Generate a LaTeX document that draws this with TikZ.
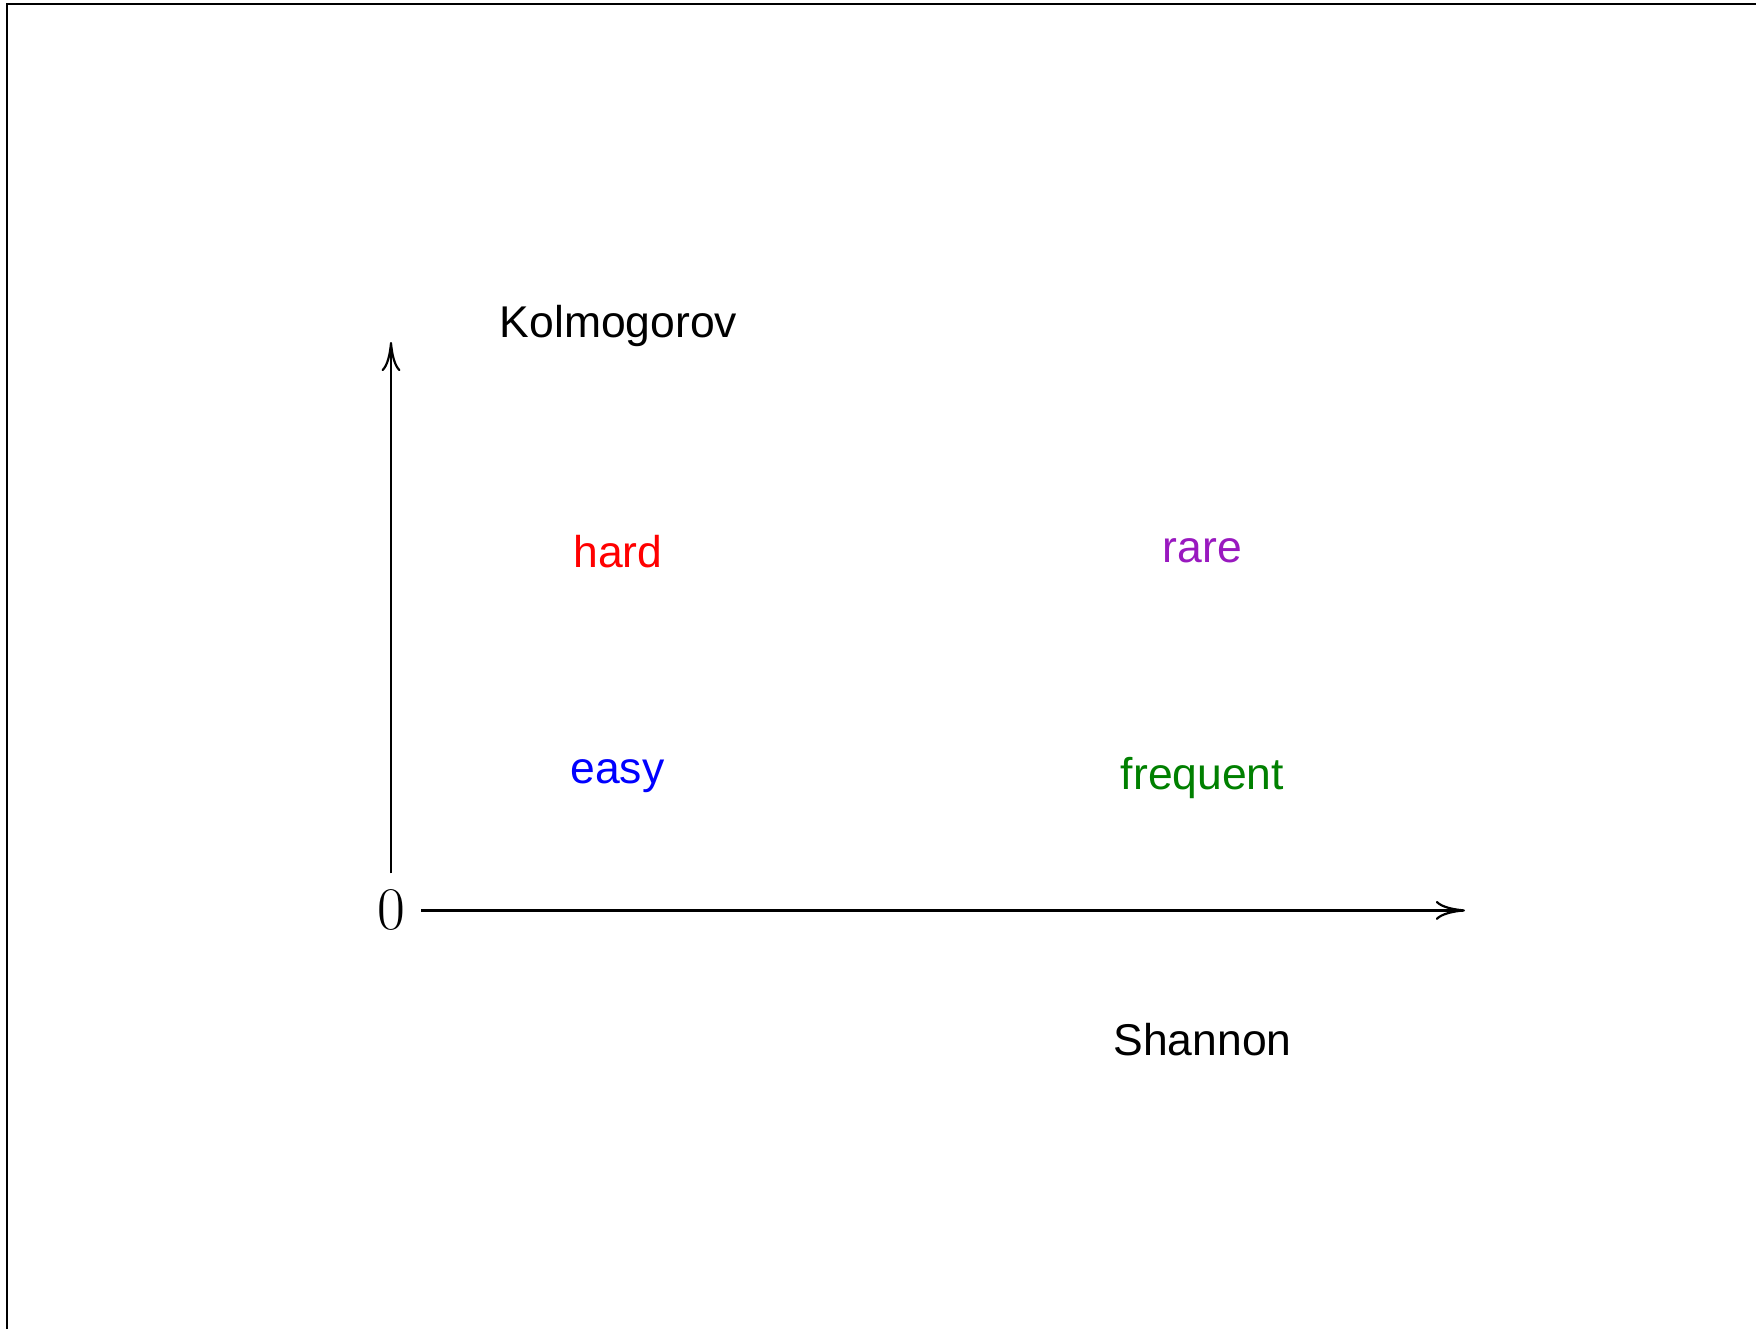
\documentclass[tikz,border=0pt]{standalone}
\usepackage{fontspec}
\usetikzlibrary{arrows.meta}
\newfontfamily\labelfont{Liberation Sans}
\definecolor{hardred}{rgb}{1,0,0}
\definecolor{rarepurple}{rgb}{0.6,0.1,0.75}
\definecolor{easyblue}{rgb}{0,0,1}
\definecolor{freqgreen}{rgb}{0,0.5,0}
\tikzset{
  lbl/.style={anchor=base, inner sep=0pt, font=\labelfont\fontsize{12.65}{15}\selectfont},
  axis/.style={line width=0.62pt, -{To[length=8.3pt,width=5.4pt]}},
  frame/.style={line width=0.62pt}
}
\begin{document}
\begin{tikzpicture}[x=0.01cm,y=-0.01cm]
\useasboundingbox (0,0) rectangle (1756,1329);
\draw[frame] (7,1329) -- (7,3.8) -- (1756,3.8);
\node[inner sep=4.5pt, font=\rmfamily\fontsize{17.2}{20}\selectfont] (zero) at (391,910.4) {0};
\coordinate (ytip) at (391,342);
\coordinate (xtip) at (1465,910.4);
\draw[axis] (zero.north) -- (ytip);
\draw[axis] (zero.east) -- (xtip);
\node[lbl] (kolm) at (618.5,337) {Kolmogorov};
\node[lbl] (shan) at (1202.5,1055) {Shannon};
\node[lbl, text=hardred] (hard) at (618,567) {hard};
\node[lbl, text=rarepurple] (rare) at (1202.5,562) {rare};
\node[lbl, text=easyblue] (easy) at (617.5,783) {easy};
\node[lbl, text=freqgreen] (freq) at (1202.5,789) {frequent};
\end{tikzpicture}
\end{document}
